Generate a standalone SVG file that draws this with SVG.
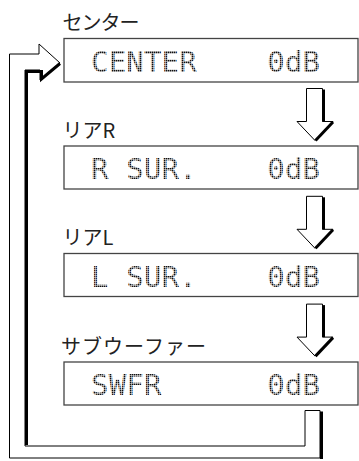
<svg xmlns="http://www.w3.org/2000/svg" width="359" height="461" viewBox="0 0 359 461">
<defs>
  <pattern id="dots" width="2" height="2" patternUnits="userSpaceOnUse">
    <rect width="1.5" height="1.5" fill="#111"/>
  </pattern>
</defs>
<style>
.box{fill:#fff;stroke:#444;stroke-width:1.3}
.lbl{font-family:"Noto Sans CJK JP","Noto Sans",sans-serif;font-size:20px;fill:#222}
.lcd{font-family:"DejaVu Sans Mono","Liberation Mono",monospace;font-size:29px;fill:url(#dots)}
.hol{fill:#fff;stroke:#000;stroke-width:1;stroke-linejoin:miter}
.shd{fill:none;stroke:#000;stroke-width:3;stroke-linejoin:miter}
</style>
<rect width="359" height="461" fill="#fff"/>
<g id="connectors">
  <g id="loop">
    <polygon class="hol" points="305,410.5 320,410.5 320,458 9.5,458 9.5,54 39,54 39,44 60,63 40,80 40,70 25,70 25,446 305,446"/>
    <polyline class="shd" points="60,63.5 41.5,79 41.5,71.5 26.5,71.5 26.5,445"/>
    <polyline class="shd" points="321.5,411.5 321.5,459"/>
  </g>
  <g id="arrow1">
    <polygon class="hol" points="306.5,88.5 322.5,88.5 322.5,121.5 333,121.5 315,140.5 297,121.5 306.5,121.5"/>
    <polyline class="shd" points="323.5,89.5 323.5,121.5"/>
    <polyline class="shd" points="333,122 315.5,140.5"/>
  </g>
  <g id="arrow2">
    <polygon class="hol" points="306.5,196.3 322.5,196.3 322.5,229.3 333,229.3 315,248.3 297,229.3 306.5,229.3"/>
    <polyline class="shd" points="323.5,197.3 323.5,229.3"/>
    <polyline class="shd" points="333,229.8 315.5,248.3"/>
  </g>
  <g id="arrow3">
    <polygon class="hol" points="306.5,304.1 322.5,304.1 322.5,337.1 333,337.1 315,356.1 297,337.1 306.5,337.1"/>
    <polyline class="shd" points="323.5,305.1 323.5,337.1"/>
    <polyline class="shd" points="333,337.6 315.5,356.1"/>
  </g>
</g>
<g id="center">
  <text class="lbl" x="62.5" y="30" textLength="77" lengthAdjust="spacing">センター</text>
  <rect class="box" x="64" y="38.5" width="294" height="43.5"/>
  <text class="lcd" x="91" y="71.5" textLength="229" lengthAdjust="spacing" xml:space="preserve">CENTER    0dB</text>
</g>
<g id="rear-r">
  <text class="lbl" x="62.5" y="137.5">リアR</text>
  <rect class="box" x="64" y="146" width="294" height="43"/>
  <text class="lcd" x="91" y="179" textLength="229" lengthAdjust="spacing" xml:space="preserve">R SUR.    0dB</text>
</g>
<g id="rear-l">
  <text class="lbl" x="62.5" y="244.5">リアL</text>
  <rect class="box" x="64" y="253.5" width="294" height="43"/>
  <text class="lcd" x="91" y="287" textLength="229" lengthAdjust="spacing" xml:space="preserve">L SUR.    0dB</text>
</g>
<g id="subwoofer">
  <text class="lbl" x="61" y="353.5" textLength="145" lengthAdjust="spacing">サブウーファー</text>
  <rect class="box" x="64" y="362" width="294" height="43"/>
  <text class="lcd" x="91" y="395" textLength="229" lengthAdjust="spacing" xml:space="preserve">SWFR      0dB</text>
</g>
</svg>
